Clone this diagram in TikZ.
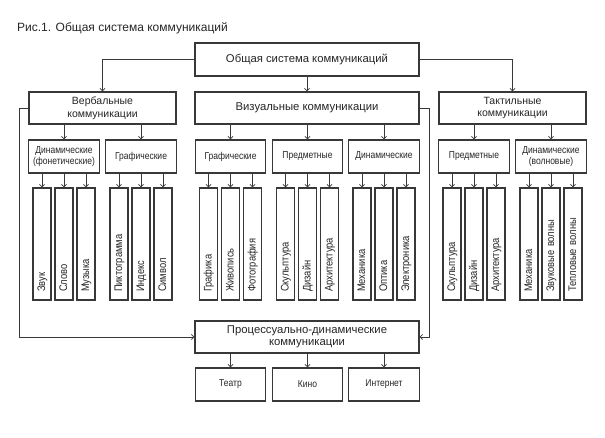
\documentclass[tikz,border=0pt]{standalone}
\usepackage{fontspec}
\setmainfont{Liberation Sans}
\newfontfamily\narrowfont{Liberation Sans}[FakeStretch=0.85]
\usetikzlibrary{arrows.meta}

\newlength{\du}
\setlength{\du}{1pt}
\definecolor{dialinecolor}{rgb}{0.220000, 0.220000, 0.220000}
\definecolor{diatextcolor}{rgb}{0.150000, 0.150000, 0.150000}
\tikzset{
  mainbox/.style={draw=dialinecolor, line width=1.1\du, fill=white, inner sep=0pt, align=center, text=diatextcolor, font=\fontsize{11.3}{12.5}\selectfont},
  sidebox/.style={mainbox, font=\fontsize{10.5}{12.6}\selectfont, minimum width=147\du, minimum height=32\du},
  subbox/.style={mainbox, font=\narrowfont\fontsize{10}{11.6}\selectfont, minimum width=70.5\du, minimum height=33\du},
  leafbox/.style={mainbox, rotate=90, font=\narrowfont\fontsize{11}{12}\selectfont, minimum height=18\du, text width=96\du, align=left, inner xsep=8\du, text height=8\du, text depth=2\du},
  link/.style={draw=dialinecolor, line width=0.8\du, -{Straight Barb[length=2.5pt,width=5pt]}},
}

\begin{document}
\begin{tikzpicture}[yscale=-1]
\useasboundingbox (0\du,0\du) rectangle (605\du,438\du);
% setfont left to latex
\node[anchor=west, inner sep=0pt, text=diatextcolor, font=\fontsize{12}{14}\selectfont] (caption) at (17\du,28\du){Рис.1. Общая система коммуникаций};
% top levels
\node[mainbox, minimum width=224\du, minimum height=33\du] (general) at (307\du,59.5\du){Общая система коммуникаций};
\node[sidebox] (verbal) at (102.5\du,108\du){Вербальные\\коммуникации};
\node[mainbox, minimum width=224\du, minimum height=32\du] (visual) at (307\du,108\du){Визуальные коммуникации};
\node[sidebox] (tactile) at (512.5\du,108\du){Тактильные\\коммуникации};
\node[mainbox, minimum width=224\du, minimum height=32\du] (process) at (307\du,337\du){Процессуально-динамические\\коммуникации};
% second level
\node[subbox] (vphon) at (64\du,156.5\du){Динамические\\(фонетические)};
\node[subbox] (vgraph) at (141\du,156.5\du){Графические};
\node[subbox] (zgraph) at (230.5\du,156.5\du){Графические};
\node[subbox] (zobj) at (307.5\du,156.5\du){Предметные};
\node[subbox] (zdyn) at (384\du,156.5\du){Динамические};
\node[subbox] (tobj) at (474\du,156.5\du){Предметные};
\node[subbox] (twave) at (551\du,156.5\du){Динамические\\(волновые)};
\node[subbox] (theatre) at (230.5\du,384.5\du){Театр};
\node[subbox] (cinema) at (307.5\du,384.5\du){Кино};
\node[subbox] (internet) at (384\du,384.5\du){Интернет};
% leaves
\node[leafbox] (sound) at (42\du,244\du){Звук};
\node[leafbox] (word) at (64\du,244\du){Слово};
\node[leafbox] (music) at (86\du,244\du){Музыка};
\node[leafbox] (picto) at (119\du,244\du){Пиктограмма};
\node[leafbox] (index) at (141\du,244\du){Индекс};
\node[leafbox] (symbol) at (163\du,244\du){Символ};
\node[leafbox] (graphics) at (208.5\du,244\du){Графика};
\node[leafbox] (painting) at (230.5\du,244\du){Живопись};
\node[leafbox] (photo) at (252.5\du,244\du){Фотография};
\node[leafbox] (zsculpt) at (285.5\du,244\du){Скульптура};
\node[leafbox] (zdesign) at (307.5\du,244\du){Дизайн};
\node[leafbox] (zarch) at (329.5\du,244\du){Архитектура};
\node[leafbox] (zmech) at (362\du,244\du){Механика};
\node[leafbox] (optics) at (384\du,244\du){Оптика};
\node[leafbox] (electro) at (406\du,244\du){Электроника};
\node[leafbox] (tsculpt) at (452\du,244\du){Скульптура};
\node[leafbox] (tdesign) at (474\du,244\du){Дизайн};
\node[leafbox] (tarch) at (496\du,244\du){Архитектура};
\node[leafbox] (tmech) at (529\du,244\du){Механика};
\node[leafbox] (soundwave) at (551\du,244\du){Звуковые волны};
\node[leafbox] (heatwave) at (573\du,244\du){Тепловые волны};
% connectors
\coordinate (vbend) at (19\du,108\du);
\coordinate (zbend) at (429\du,108\du);
\draw[link] (general.west) -| (verbal.north);
\draw[link] (general.east) -| (tactile.north);
\draw[link] (general) -- (visual);
\draw[link] (verbal.west) -- (vbend) |- (process.west);
\draw[link] (visual.east) -- (zbend) |- (process.east);
\draw[link] (verbal.south -| vphon.north) -- (vphon.north);
\draw[link] (verbal.south -| vgraph.north) -- (vgraph.north);
\draw[link] (visual.south -| zgraph.north) -- (zgraph.north);
\draw[link] (visual.south -| zobj.north) -- (zobj.north);
\draw[link] (visual.south -| zdyn.north) -- (zdyn.north);
\draw[link] (tactile.south -| tobj.north) -- (tobj.north);
\draw[link] (tactile.south -| twave.north) -- (twave.north);
\draw[link] (process.south -| theatre.north) -- (theatre.north);
\draw[link] (process.south -| cinema.north) -- (cinema.north);
\draw[link] (process.south -| internet.north) -- (internet.north);
\draw[link] (vphon.south -| sound.east) -- (sound.east);
\draw[link] (vphon.south -| word.east) -- (word.east);
\draw[link] (vphon.south -| music.east) -- (music.east);
\draw[link] (vgraph.south -| picto.east) -- (picto.east);
\draw[link] (vgraph.south -| index.east) -- (index.east);
\draw[link] (vgraph.south -| symbol.east) -- (symbol.east);
\draw[link] (zgraph.south -| graphics.east) -- (graphics.east);
\draw[link] (zgraph.south -| painting.east) -- (painting.east);
\draw[link] (zgraph.south -| photo.east) -- (photo.east);
\draw[link] (zobj.south -| zsculpt.east) -- (zsculpt.east);
\draw[link] (zobj.south -| zdesign.east) -- (zdesign.east);
\draw[link] (zobj.south -| zarch.east) -- (zarch.east);
\draw[link] (zdyn.south -| zmech.east) -- (zmech.east);
\draw[link] (zdyn.south -| optics.east) -- (optics.east);
\draw[link] (zdyn.south -| electro.east) -- (electro.east);
\draw[link] (tobj.south -| tsculpt.east) -- (tsculpt.east);
\draw[link] (tobj.south -| tdesign.east) -- (tdesign.east);
\draw[link] (tobj.south -| tarch.east) -- (tarch.east);
\draw[link] (twave.south -| tmech.east) -- (tmech.east);
\draw[link] (twave.south -| soundwave.east) -- (soundwave.east);
\draw[link] (twave.south -| heatwave.east) -- (heatwave.east);
\end{tikzpicture}
\end{document}
